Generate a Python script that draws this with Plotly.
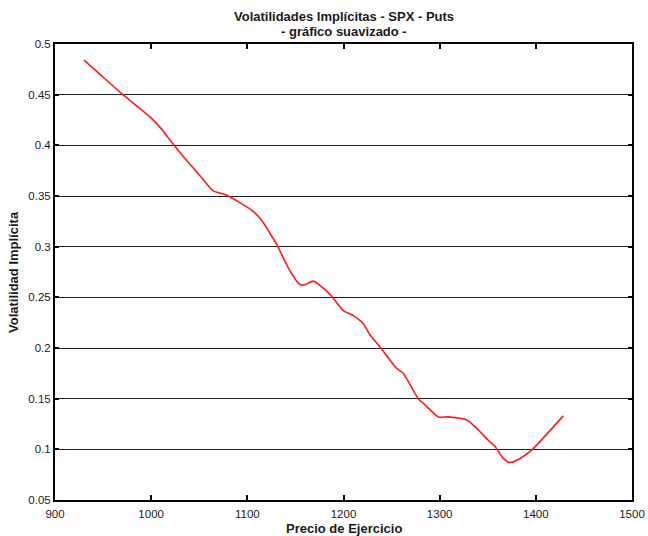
import plotly.graph_objects as go

# Strike prices and smoothed implied volatility of SPX puts
strike = [930.2, 946.8, 969.4, 984.9, 998.8, 1010.9, 1023.0, 1036.9, 1050.8, 1064.6,
          1075.0, 1080.2, 1104.5, 1114.9, 1123.6, 1131.2, 1142.6, 1153.0, 1158.2, 1168.6,
          1179.0, 1187.7, 1199.8, 1210.2, 1220.6, 1227.5, 1237.9, 1255.2, 1262.1, 1277.7,
          1284.7, 1298.6, 1309.0, 1328.1, 1338.4, 1350.5, 1357.5, 1366.1, 1373.1, 1383.5,
          1395.6, 1428.5]
vol = [0.484, 0.470, 0.451, 0.439, 0.428, 0.416, 0.401, 0.385, 0.370, 0.355,
       0.352, 0.350, 0.336, 0.326, 0.313, 0.301, 0.279, 0.264, 0.262, 0.266,
       0.259, 0.251, 0.237, 0.232, 0.224, 0.213, 0.201, 0.180, 0.175, 0.150,
       0.144, 0.132, 0.132, 0.129, 0.121, 0.109, 0.103, 0.091, 0.087, 0.091,
       0.0992, 0.133]

x_ticks = [900, 1000, 1100, 1200, 1300, 1400, 1500]
y_ticks = [0.05, 0.1, 0.15, 0.2, 0.25, 0.3, 0.35, 0.4, 0.45, 0.5]
y_tick_text = ["0.05", "0.1", "0.15", "0.2", "0.25", "0.3", "0.35", "0.4", "0.45", "0.5"]
title_lines = ["Volatilidades Implícitas - SPX - Puts", "- gráfico suavizado -"]
x_title = "Precio de Ejercicio"
y_title = "Volatilidad Implícita"

font_family = "Liberation Sans, Arial, sans-serif"
text_color = "#1a1a1a"
bold_font = dict(family=font_family, size=13, color=text_color)

fig = go.Figure()
fig.add_trace(go.Scatter(
    x=strike, y=vol, mode="lines",
    line=dict(color="#ff1a1a", width=1.6, shape="spline", smoothing=0.6),
    showlegend=False, hoverinfo="skip",
))

# Two-line bold title above the plot box
for i, line in enumerate(title_lines):
    fig.add_annotation(
        text=f"<b>{line}</b>", xref="paper", yref="paper",
        x=0.5, y=1, xanchor="center", yanchor="middle",
        yshift=28 - 15 * i, showarrow=False, font=bold_font,
    )

# Axis titles
fig.add_annotation(
    text=f"<b>{x_title}</b>", xref="paper", yref="paper",
    x=0.5, y=0, xanchor="center", yanchor="middle",
    yshift=-28, showarrow=False, font=bold_font,
)
fig.add_annotation(
    text=f"<b>{y_title}</b>", xref="paper", yref="paper",
    x=0, y=0.5, xanchor="center", yanchor="middle", textangle=-90,
    xshift=-42, showarrow=False, font=bold_font,
)

fig.update_layout(
    width=648, height=536,
    margin=dict(l=55, r=16, t=44, b=36, autoexpand=False),
    paper_bgcolor="white", plot_bgcolor="white",
    font=dict(family=font_family, size=11, color=text_color),
    xaxis=dict(
        range=[900, 1500], tickvals=x_ticks, ticktext=[str(v) for v in x_ticks],
        showgrid=False, zeroline=False, automargin=False,
        showline=True, linecolor="black", linewidth=2, mirror="ticks",
        ticks="inside", ticklen=5, tickwidth=2, tickcolor="black",
        ticklabelstandoff=2,
        tickfont=dict(size=11.5, color=text_color),
    ),
    yaxis=dict(
        range=[0.05, 0.5], tickvals=y_ticks, ticktext=y_tick_text,
        showgrid=True, gridcolor="#222222", gridwidth=1.2, zeroline=False,
        automargin=False,
        showline=True, linecolor="black", linewidth=2, mirror="ticks",
        ticks="inside", ticklen=4, tickwidth=2, tickcolor="black",
        tickfont=dict(size=11.5, color=text_color),
    ),
)

fig.write_html("out.html")
